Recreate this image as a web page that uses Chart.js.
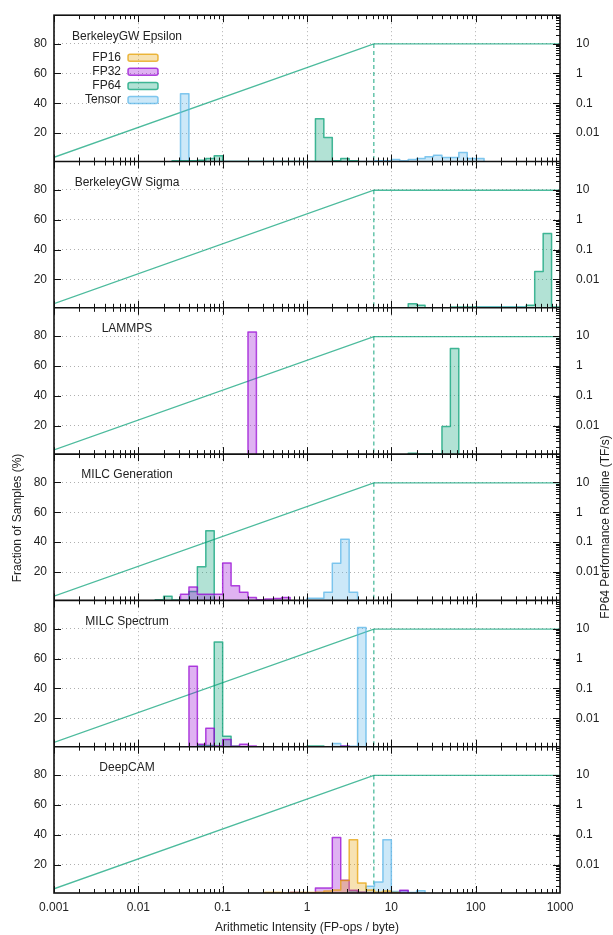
<!DOCTYPE html>
<html>
<head>
<meta charset="utf-8">
<script src="https://cdn.jsdelivr.net/npm/chart.js@4.4.0/dist/chart.umd.min.js"></script>
<style>
  html, body { margin: 0; padding: 0; background: #fff; }
  #wrap { position: relative; width: 613px; height: 935px; }
</style>
</head>
<body>
<div id="wrap"><canvas id="roofChart" width="613" height="935"></canvas></div>
<script>
// ---------- data ----------
const panelNames = ['BerkeleyGW Epsilon', 'BerkeleyGW Sigma', 'LAMMPS',
                    'MILC Generation', 'MILC Spectrum', 'DeepCAM'];
const precisions = ['FP16', 'FP32', 'FP64', 'Tensor'];
const precisionRGB = ['230,159,0', '148,0,211', '0,158,115', '86,180,233'];

// histogram bins: [log10(bin start), % of samples]; each bin is 0.1 decade wide
const epsilonFP16 = [];
const epsilonFP32 = [];
const epsilonFP64 = [[-1.6, 1.5], [-1.5, 1.5], [-1.4, 1.5], [-1.3, 1.8], [-1.2, 3], [-1.1, 4.8],
                     [0.1, 29.7], [0.2, 17], [0.3, 1.5], [0.4, 3], [0.5, 1.5]];
const epsilonTensor = [[-1.5, 46.3], [0.8, 1.5], [0.9, 1.5], [1.0, 2.3], [1.1, 1.5], [1.2, 2.3],
                       [1.3, 3], [1.4, 4.1], [1.5, 5.2], [1.6, 3.7], [1.7, 3.7], [1.8, 7],
                       [1.9, 3], [2.0, 3]];

const sigmaFP16 = [];
const sigmaFP32 = [];
const sigmaFP64 = [[1.2, 3.7], [1.3, 2.7], [1.7, 1.5], [1.8, 1.5], [1.9, 1.5], [2.0, 1.3],
                   [2.1, 1.3], [2.2, 1.3], [2.3, 1.3], [2.4, 1.3], [2.5, 1.3], [2.6, 2.7],
                   [2.7, 25.3], [2.8, 50.7], [2.9, 1.5]];
const sigmaTensor = [[2.0, 1.6], [2.1, 1.6], [2.2, 1.6], [2.3, 1.6], [2.4, 1.6], [2.5, 1.6]];

const lammpsFP16 = [];
const lammpsFP32 = [[-0.7, 82.8]];
const lammpsFP64 = [[1.2, 1.5], [1.6, 19.5], [1.7, 71.7]];
const lammpsTensor = [];

const milcGenFP16 = [];
const milcGenFP32 = [[-1.5, 5.2], [-1.4, 9.9], [-1.3, 5.2], [-1.2, 5.2], [-1.1, 5.2], [-1.0, 26.1],
                     [-0.9, 10.8], [-0.8, 6.5], [-0.7, 3], [-0.6, 1.5], [-0.5, 1.9], [-0.4, 2.3],
                     [-0.3, 3]];
const milcGenFP64 = [[-1.8, 1.5], [-1.7, 3.7], [-1.6, 1.3], [-1.5, 1.3], [-1.4, 7], [-1.3, 23.5],
                     [-1.2, 47.7]];
const milcGenTensor = [[0.0, 2.5], [0.1, 2.5], [0.2, 6.5], [0.3, 25.9], [0.4, 42], [0.5, 6.5]];

const milcSpecFP16 = [];
const milcSpecFP32 = [[-1.4, 54.9], [-1.3, 2.7], [-1.2, 13.3], [-1.1, 1.5], [-1.0, 5.8],
                      [-0.9, 1.3], [-0.8, 2.7], [-0.7, 1.5], [0.4, 1.5]];
const milcSpecFP64 = [[-1.3, 1.8], [-1.2, 1.8], [-1.1, 71.1], [-1.0, 8], [-0.9, 1.3],
                      [0.0, 1.5], [0.1, 1.5]];
const milcSpecTensor = [[0.3, 3.1], [0.4, 1.3], [0.5, 1.3], [0.6, 80.9]];

const deepcamFP16 = [[-0.5, 1.3], [-0.4, 1.3], [-0.2, 1.3], [-0.1, 1.3], [0.0, 1.3], [0.1, 1.5],
                     [0.2, 2.3], [0.3, 3], [0.4, 9.3], [0.5, 36.6], [0.6, 7.7], [0.7, 3],
                     [0.8, 1.5], [0.9, 2.3], [1.0, 1.3]];
const deepcamFP32 = [[-0.2, 1.3], [0.1, 4.4], [0.2, 4.4], [0.3, 38.1], [0.4, 9.5], [0.5, 2.8],
                     [0.6, 1.5], [1.1, 2.8]];
const deepcamFP64 = [];
const deepcamTensor = [[0.5, 2], [0.6, 1.5], [0.7, 5.5], [0.8, 8.4], [0.9, 36.6], [1.0, 2],
                       [1.1, 2.5], [1.2, 1.3], [1.3, 2.5]];

// FP64 roofline (AI in FP-ops/byte, performance in TF/s)
const rooflineAI = [0.001, 6.2, 1000];
const rooflineTF = [0.00155, 9.7, 9.7];

// axis ticks
const aiTicks = [0.001, 0.01, 0.1, 1, 10, 100, 1000];
const fracTicks = [20, 40, 60, 80];
const perfTicks = [0.01, 0.1, 1, 10];

// ---------- setup ----------
const panelBins = [
  [epsilonFP16, epsilonFP32, epsilonFP64, epsilonTensor],
  [sigmaFP16, sigmaFP32, sigmaFP64, sigmaTensor],
  [lammpsFP16, lammpsFP32, lammpsFP64, lammpsTensor],
  [milcGenFP16, milcGenFP32, milcGenFP64, milcGenTensor],
  [milcSpecFP16, milcSpecFP32, milcSpecFP64, milcSpecTensor],
  [deepcamFP16, deepcamFP32, deepcamFP64, deepcamTensor]
];

const BIN_W = 0.1;
const FRAC_MIN = 1, FRAC_MAX = 99;
// right axis is tied to the left one: 80 % <-> 10 TF/s, 20 % per decade
const PERF_MIN = Math.pow(10, (FRAC_MIN - 60) / 20);
const PERF_MAX = Math.pow(10, (FRAC_MAX - 60) / 20);

const FONT = "'Liberation Sans', Arial, sans-serif";
const TEXT = '#222';
const GRID = 'rgba(150,150,150,0.75)';
const ROOF = 'rgba(0,158,115,0.7)';

Chart.defaults.font.family = FONT;
Chart.defaults.font.size = 12;
Chart.defaults.color = TEXT;

// outline of a step histogram (contiguous bins joined, gaps dropped to the baseline)
function stepPoints(bins) {
  const pts = [];
  const sorted = bins.slice().sort((a, b) => a[0] - b[0]);
  let prevEnd = null;
  sorted.forEach(([s, v]) => {
    const e = Math.round((s + BIN_W) * 10) / 10;
    if (prevEnd === null || Math.abs(prevEnd - s) > 1e-6) {
      if (prevEnd !== null) pts.push({ x: Math.pow(10, prevEnd), y: FRAC_MIN });
      pts.push({ x: Math.pow(10, s), y: FRAC_MIN });
    }
    pts.push({ x: Math.pow(10, s), y: v });
    pts.push({ x: Math.pow(10, e), y: v });
    prevEnd = e;
  });
  if (prevEnd !== null) pts.push({ x: Math.pow(10, prevEnd), y: FRAC_MIN });
  return pts;
}

const datasets = [];
const scales = {
  x: {
    type: 'logarithmic', position: 'bottom', min: 0.001, max: 1000,
    afterBuildTicks: s => { s.ticks = aiTicks.map(v => ({ value: v })); },
    afterFit: s => { s.height = 42; },
    ticks: { autoSkip: false, maxRotation: 0, padding: 7, callback: v => String(v) },
    grid: { color: GRID, lineWidth: 1, drawTicks: false },
    border: { display: false, dash: [1, 3] },
    title: { display: true, text: 'Arithmetic Intensity (FP-ops / byte)', padding: { top: 0, bottom: 0 } }
  }
};

panelBins.forEach((series, k) => {
  scales['y' + k] = {
    type: 'linear', position: 'left', stack: 'left', stackWeight: 1, weight: 6 - k,
    min: FRAC_MIN, max: FRAC_MAX,
    afterBuildTicks: s => { s.ticks = fracTicks.map(v => ({ value: v })); },
    afterFit: s => { s.width = 54; },
    ticks: { padding: 7 },
    grid: { color: GRID, lineWidth: 1, drawTicks: false },
    border: { display: false, dash: [1, 3] }
  };
  scales['r' + k] = {
    type: 'logarithmic', position: 'right', stack: 'right', stackWeight: 1, weight: k,
    min: PERF_MIN, max: PERF_MAX,
    afterBuildTicks: s => { s.ticks = perfTicks.map(v => ({ value: v })); },
    afterFit: s => { s.width = 53; },
    ticks: { padding: 8, callback: v => String(v) },
    grid: { display: false },
    border: { display: false }
  };

  series.forEach((bins, p) => {
    if (!bins.length) return;
    const rgb = precisionRGB[p];
    datasets.push({
      label: panelNames[k] + ' ' + precisions[p],
      data: stepPoints(bins),
      xAxisID: 'x', yAxisID: 'y' + k,
      borderColor: 'rgba(' + rgb + ',0.72)',
      backgroundColor: 'rgba(' + rgb + ',0.3)',
      borderWidth: 1.5, fill: 'origin', tension: 0, pointRadius: 0,
      borderJoinStyle: 'round'
    });
  });

  datasets.push({
    label: 'roofline',
    data: rooflineAI.map((a, i) => ({ x: a, y: rooflineTF[i] })),
    xAxisID: 'x', yAxisID: 'r' + k,
    borderColor: ROOF, borderWidth: 1.3, fill: false, pointRadius: 0, tension: 0
  });
  datasets.push({
    label: 'ridge',
    data: [{ x: rooflineAI[1], y: rooflineTF[1] }, { x: rooflineAI[1], y: PERF_MIN }],
    xAxisID: 'x', yAxisID: 'r' + k,
    borderColor: ROOF, borderWidth: 1.3, borderDash: [4, 3], fill: false, pointRadius: 0
  });
});

// frames, inward tick marks, panel titles, legend and side titles
const decorPlugin = {
  id: 'decor',
  afterDraw(chart) {
    const ctx = chart.ctx;
    const { left, right, top, bottom } = chart.chartArea;
    const xs = chart.scales.x;
    const line = (x1, y1, x2, y2) => { ctx.beginPath(); ctx.moveTo(x1, y1); ctx.lineTo(x2, y2); ctx.stroke(); };
    ctx.save();
    ctx.strokeStyle = '#111';
    ctx.lineWidth = 1;

    panelNames.forEach((name, k) => {
      const ys = chart.scales['y' + k];
      const rs = chart.scales['r' + k];
      for (let d = -3; d < 3; d++) {
        for (let m = 1; m < 10; m++) {
          const px = Math.round(xs.getPixelForValue(m * Math.pow(10, d))) + 0.5;
          const len = m === 1 ? 7 : 4;
          line(px, ys.top, px, ys.top + len);
          line(px, ys.bottom, px, ys.bottom - len);
        }
      }
      fracTicks.forEach(v => {
        const py = Math.round(ys.getPixelForValue(v)) + 0.5;
        line(left, py, left + 7, py);
      });
      for (let d = -3; d < 2; d++) {
        for (let m = 1; m < 10; m++) {
          const v = m * Math.pow(10, d);
          if (v < rs.min || v > rs.max) continue;
          const py = Math.round(rs.getPixelForValue(v)) + 0.5;
          line(right, py, right - (m === 1 ? 7 : 4), py);
        }
      }
      ctx.fillStyle = TEXT;
      ctx.font = '12px ' + FONT;
      ctx.textAlign = 'center';
      ctx.textBaseline = 'middle';
      ctx.fillText(name, 127, ys.top + 21);
    });

    ctx.lineWidth = 1.6;
    ctx.strokeRect(left, top, right - left, bottom - top);
    for (let k = 1; k < panelNames.length; k++) {
      const py = chart.scales['y' + k].top;
      line(left, py, right, py);
    }

    // legend inside the first panel
    const y0 = chart.scales.y0.top;
    precisions.forEach((name, i) => {
      const cy = y0 + 42.5 + i * 14.1;
      ctx.fillStyle = TEXT;
      ctx.textAlign = 'right';
      ctx.textBaseline = 'middle';
      ctx.fillText(name, 121, cy);
      ctx.beginPath();
      ctx.roundRect(128, cy - 3.5, 30, 7, 2);
      ctx.fillStyle = 'rgba(' + precisionRGB[i] + ',0.3)';
      ctx.fill();
      ctx.strokeStyle = 'rgba(' + precisionRGB[i] + ',0.72)';
      ctx.lineWidth = 1.5;
      ctx.stroke();
    });

    // side axis titles
    ctx.fillStyle = TEXT;
    ctx.textAlign = 'center';
    ctx.textBaseline = 'middle';
    ctx.save();
    ctx.translate(18, 518);
    ctx.rotate(-Math.PI / 2);
    ctx.fillText('Fraction of Samples (%)', 0, 0);
    ctx.restore();
    ctx.save();
    ctx.translate(606, 527);
    ctx.rotate(-Math.PI / 2);
    ctx.fillText('FP64 Performance Roofline (TF/s)', 0, 0);
    ctx.restore();

    ctx.restore();
  }
};

new Chart(document.getElementById('roofChart'), {
  type: 'line',
  data: { datasets: datasets },
  options: {
    responsive: false,
    animation: false,
    devicePixelRatio: 1,
    layout: { padding: { top: 12, left: 0, right: 0, bottom: 0 } },
    plugins: { legend: { display: false }, tooltip: { enabled: false } },
    scales: scales
  },
  plugins: [decorPlugin]
});
</script>
</body>
</html>
